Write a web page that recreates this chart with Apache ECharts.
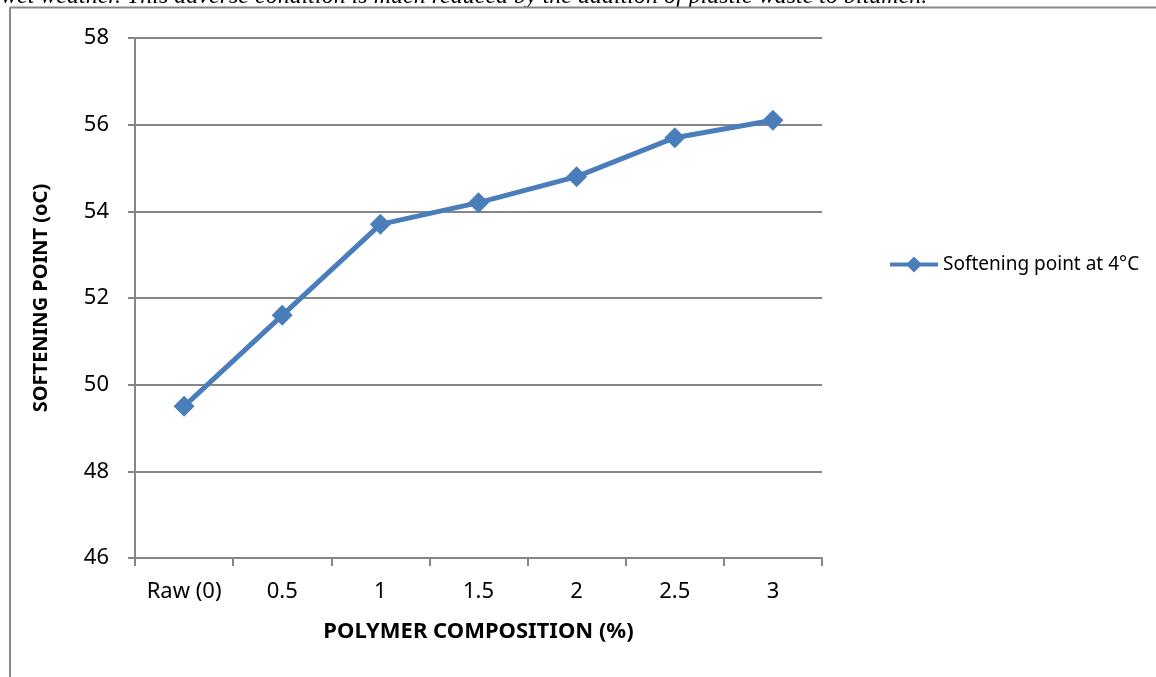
<!DOCTYPE html>
<html>
<head>
<meta charset="utf-8">
<script src="https://cdn.jsdelivr.net/npm/echarts@6/dist/echarts.min.js"></script>
<style>html,body{margin:0;padding:0;background:#fff}#c{width:1156px;height:677px}</style>
</head>
<body>
<div id="c"></div>
<script>
var categories = ['Raw (0)', '0.5', '1', '1.5', '2', '2.5', '3'];
var softening = [49.5, 51.6, 53.7, 54.2, 54.8, 55.7, 56.1];
var seriesName = 'Softening point at 4°C';
var xTitle = 'POLYMER COMPOSITION (%)';
var yTitle = 'SOFTENING POINT (oC)';
var topText = 'wet weather. This adverse condition is much reduced by the addition of plastic waste to bitumen.';

var chart = echarts.init(document.getElementById('c'));
var font = '"Noto Sans", sans-serif';
chart.setOption({
  animation: false,
  backgroundColor: '#fff',
  graphic: [
    { type: 'line', shape: { x1: 10, y1: 7.5, x2: 1156, y2: 7.5 }, style: { stroke: '#878787', lineWidth: 2 } },
    { type: 'line', shape: { x1: 10, y1: 7, x2: 10, y2: 677 }, style: { stroke: '#878787', lineWidth: 2 } },
    { type: 'text', left: 1, top: -15, z: -1, style: { text: topText, font: 'italic 24px "Liberation Serif", serif', fill: '#000' } }
  ],
  grid: { left: 135, top: 38, width: 687, height: 520, containLabel: false },
  legend: {
    data: [seriesName],
    left: 883, top: 250,
    itemWidth: 48, itemHeight: 20,
    lineStyle: { width: 4 },
    textStyle: { fontFamily: font, fontSize: 19, color: '#000' }
  },
  xAxis: {
    type: 'category',
    data: categories,
    boundaryGap: true,
    axisLine: { lineStyle: { color: '#868686', width: 2 } },
    axisTick: { show: true, length: 8, lineStyle: { color: '#868686', width: 2 }, alignWithLabel: false },
    axisLabel: { fontFamily: font, fontSize: 22, color: '#000', margin: 23 },
    name: xTitle, nameLocation: 'middle', nameGap: 63,
    nameTextStyle: { fontFamily: font, fontSize: 22, fontWeight: 'bold', color: '#000' }
  },
  yAxis: {
    type: 'value', min: 46, max: 58, interval: 2,
    axisLine: { show: true, lineStyle: { color: '#868686', width: 2 } },
    axisTick: { show: true, length: 7, lineStyle: { color: '#868686', width: 2 } },
    splitLine: { lineStyle: { color: '#868686', width: 2 } },
    axisLabel: { fontFamily: font, fontSize: 22, color: '#000', margin: 26 },
    name: yTitle, nameLocation: 'middle', nameGap: 84, nameRotate: 90,
    nameTextStyle: { fontFamily: font, fontSize: 20, fontWeight: 'bold', color: '#000' }
  },
  series: [{
    name: seriesName,
    type: 'line',
    data: softening,
    symbol: 'diamond', symbolSize: 21,
    lineStyle: { color: '#4a7ebb', width: 5 },
    itemStyle: { color: '#4a7ebb' }
  }]
});
</script>
</body>
</html>
